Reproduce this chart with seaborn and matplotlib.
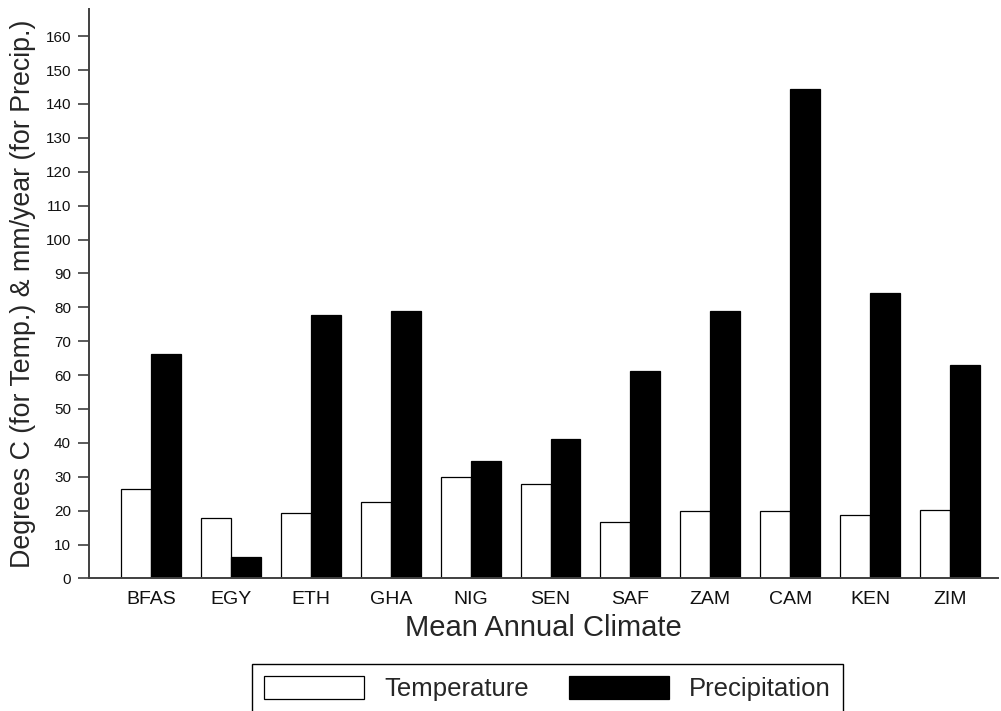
import pandas as pd
import matplotlib
matplotlib.use("Agg")
import matplotlib.pyplot as plt
import seaborn as sns

# data
countries = ["BFAS", "EGY", "ETH", "GHA", "NIG", "SEN", "SAF", "ZAM", "CAM", "KEN", "ZIM"]
temperature = [26.3, 17.9, 19.4, 22.6, 29.9, 27.9, 16.8, 19.8, 19.8, 18.8, 20.2]
precipitation = [66.1, 6.4, 77.6, 78.8, 34.7, 41.2, 61.2, 79.0, 144.3, 84.3, 62.9]
series = ["Temperature", "Precipitation"]
y_ticks = list(range(0, 170, 10))

df = pd.DataFrame({
    "country": countries * 2,
    "series": [series[0]] * len(countries) + [series[1]] * len(countries),
    "value": temperature + precipitation,
})

sns.set_style("ticks")
plt.rcParams["font.family"] = ["Liberation Sans", "DejaVu Sans"]
axis_col = "#404040"

fig = plt.figure(figsize=(10.01, 7.11), dpi=100)
ax = fig.add_axes([0.089, 0.1864, 0.908, 0.8009])

sns.barplot(data=df, x="country", y="value", hue="series", hue_order=series,
            palette={"Temperature": "white", "Precipitation": "black"},
            edgecolor="black", linewidth=0.9, width=0.75, ax=ax)

ax.set_xlim(-0.775, 10.6)
ax.set_ylim(0, 168)
ax.set_yticks(y_ticks)
ax.tick_params(axis="y", labelsize=11, length=8, width=1.2, color=axis_col, pad=5)
ax.tick_params(axis="x", labelsize=14, length=0, pad=9)
for lab in ax.get_xticklabels() + ax.get_yticklabels():
    lab.set_color("#111111")

for side in ["top", "right"]:
    ax.spines[side].set_visible(False)
for side in ["left", "bottom"]:
    ax.spines[side].set_color(axis_col)
    ax.spines[side].set_linewidth(1.4)

ax.set_xlabel("Mean Annual Climate", fontsize=21, labelpad=4)
ax.set_ylabel("Degrees C (for Temp.) & mm/year (for Precip.)", fontsize=19.3, labelpad=7)

handles, labels = ax.get_legend_handles_labels()
ax.get_legend().remove()
leg = fig.legend(handles, labels, loc="upper center", bbox_to_anchor=(0.547, 0.066),
                 ncol=2, fontsize=18.5, frameon=True, fancybox=False, framealpha=1,
                 edgecolor="black", handlelength=3.9, handleheight=1.0,
                 handletextpad=0.78, columnspacing=1.56, borderpad=0.47,
                 borderaxespad=0)
leg.get_frame().set_linewidth(1.0)

fig.savefig("out.png", dpi=100)
